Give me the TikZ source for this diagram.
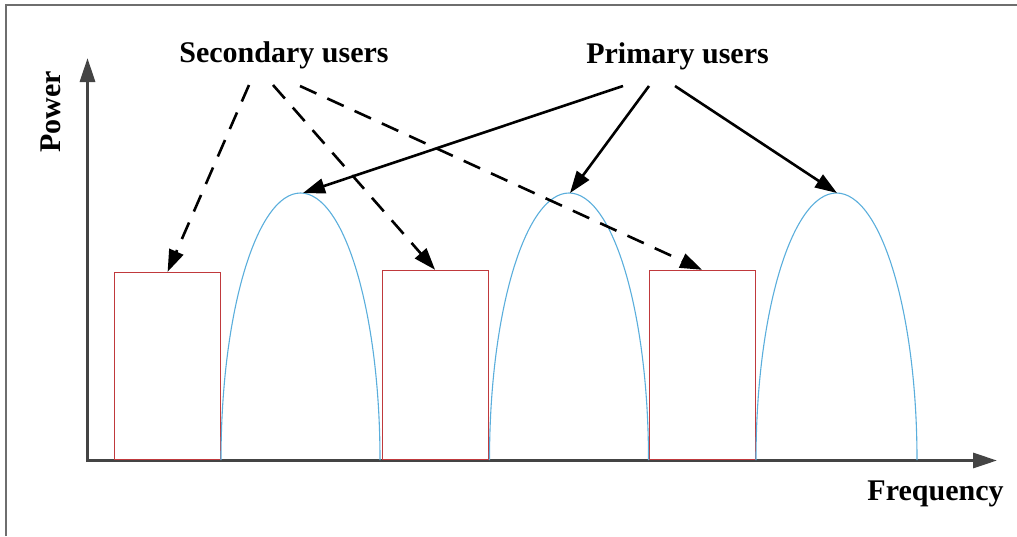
\documentclass[tikz,border=0pt]{standalone}
\usepackage{fontspec}
\setmainfont{Liberation Serif}
\usetikzlibrary{arrows.meta}
\definecolor{axisgray}{HTML}{444444}
\definecolor{framegray}{HTML}{6E6E6E}
\definecolor{sured}{HTML}{C0393C}
\definecolor{publue}{HTML}{5AAEDC}
\tikzset{
  lbl/.style={font=\fontsize{30}{35}\selectfont\bfseries, inner sep=0pt, anchor=base},
  axisline/.style={draw=axisgray, line width=3.2pt, -{Triangle[length=24pt,width=15pt]}},
  subox/.style={draw=sured, line width=1.2pt, minimum width=106pt, minimum height=187pt, inner sep=0pt, anchor=south west},
  hump/.style={draw=publue, line width=1.1pt},
  suarrow/.style={line width=2.6pt, dash pattern=on 18pt off 12pt, -{Triangle[length=22pt,width=15pt]}},
  puarrow/.style={line width=2.6pt, -{Triangle[length=22pt,width=15pt]}},
}
\begin{document}
\begin{tikzpicture}[x=1pt,y=-1pt]
\useasboundingbox (0,0) rectangle (1017,536);
% outer frame (top and left edges)
\draw[framegray, line width=1.5pt] (6,536) -- (6,5) -- (1017,5);

% axes
\coordinate (origin) at (87.5,462);
\coordinate (ytip) at (87.5,58);
\coordinate (xorigin) at (86,460.5);
\coordinate (xtip) at (997,460.5);
\draw[axisline] (origin) -- (ytip);
\draw[axisline] (xorigin) -- (xtip);
\node[lbl, rotate=90] (power) at (60,112) {Power};
\node[lbl] (freq) at (935.5,500) {Frequency};

% secondary-user bands
\node[subox] (b1) at (114,460) {};
\node[subox, minimum height=189pt] (b2) at (381.5,460) {};
\node[subox, minimum height=189pt] (b3) at (648.5,460) {};

% primary-user spectra
\draw[hump] (221,460) arc[start angle=180, end angle=0, x radius=79.5pt, y radius=267pt];
\draw[hump] (489.5,460) arc[start angle=180, end angle=0, x radius=79.5pt, y radius=267pt];
\draw[hump] (756,460) arc[start angle=180, end angle=0, x radius=80.5pt, y radius=267pt];
\coordinate (h1) at (303,193);
\coordinate (h2) at (570,193);
\coordinate (h3) at (837,193);

% labels
\node[lbl] (su) at (284,62) {Secondary users};
\node[lbl] (pu) at (677.5,63) {Primary users};

% connectors
\coordinate (s1) at (249,85);
\coordinate (s2) at (273,85);
\coordinate (s3) at (300,86);
\coordinate (p1) at (623,86);
\coordinate (p2) at (649,86);
\coordinate (p3) at (675,86);
\draw[suarrow] (s1) -- (b1.north);
\draw[suarrow] (s2) -- (b2.north);
\draw[suarrow] (s3) -- (b3.north);
\draw[puarrow] (p1) -- (h1);
\draw[puarrow] (p2) -- (h2);
\draw[puarrow] (p3) -- (h3);
\end{tikzpicture}
\end{document}
